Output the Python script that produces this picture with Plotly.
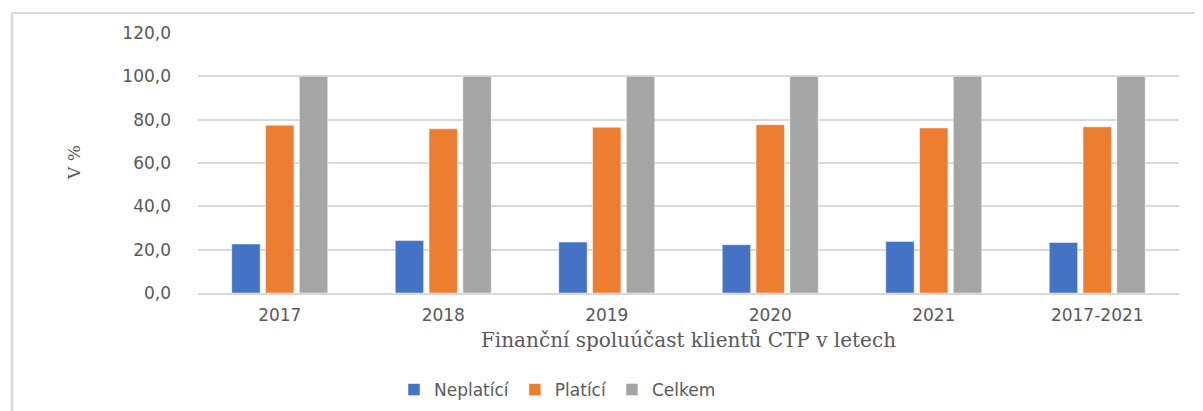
import plotly.graph_objects as go

categories = ["2017", "2018", "2019", "2020", "2021", "2017-2021"]
neplatici = [22.6, 24.2, 23.5, 22.3, 23.8, 23.3]
platici = [77.4, 75.8, 76.5, 77.7, 76.2, 76.7]
celkem = [100.0, 100.0, 100.0, 100.0, 100.0, 100.0]
y_ticks = [0, 20, 40, 60, 80, 100, 120]

# the page body adds an 8px margin; lay the figure out in window pixels
OFF = 8
WIN_W, WIN_H = 1203, 411
W, H = WIN_W - OFF, WIN_H - OFF
PL, PR, PT, PB = 198, 1179, 33, 293   # plot area in window pixels
L, T = PL - OFF, PT - OFF
R, B = WIN_W - PR, WIN_H - PB
pw, ph = PR - PL, PB - PT

def px_x(p):
    return (p - PL) / pw

def px_y(p):
    return (PB - p) / ph

fig = go.Figure()
for name, vals, col in [("Neplatící", neplatici, "#4472C4"),
                        ("Platící", platici, "#ED7D31"),
                        ("Celkem", celkem, "#A5A5A5")]:
    fig.add_trace(go.Bar(x=categories, y=vals, name=name,
                         marker=dict(color=col, line=dict(color="rgba(255,255,255,0.6)", width=0.8))))

tick_font = dict(family="DejaVu Sans", size=17, color="#595959")
serif = "DejaVu Serif"

fig.update_layout(
    width=W, height=H,
    margin=dict(l=L, r=R, t=T, b=B, autoexpand=False),
    paper_bgcolor="white", plot_bgcolor="white",
    barmode="group", bargap=0.38, bargroupgap=0.16,
    separators=", ",
    font=tick_font,
    showlegend=True,
    legend=dict(orientation="h", x=px_x(394), xanchor="left", y=px_y(390), yanchor="middle",
                font=dict(family="DejaVu Sans", size=17, color="#595959"),
                itemwidth=30, traceorder="normal"),
    xaxis=dict(type="category", showgrid=False, showline=True, linecolor="#D9D9D9", linewidth=1.5,
               ticks="", tickfont=tick_font, ticklabelstandoff=6,
               title=dict(text="Finanční spoluúčast klientů CTP v letech",
                          font=dict(family=serif, size=20, color="#595959"), standoff=9)),
    yaxis=dict(range=[0, 120], tickvals=y_ticks, tickformat=".1f", showgrid=True,
               gridcolor="#D9D9D9", gridwidth=1.5, zeroline=False, showline=False,
               ticks="", tickfont=tick_font, ticklabelstandoff=26),
    annotations=[dict(text="V %", xref="paper", yref="paper", x=px_x(74), y=px_y(163),
                      xanchor="center", yanchor="middle", textangle=-90, showarrow=False,
                      font=dict(family=serif, size=17, color="#595959"))],
    shapes=[dict(type="line", xref="paper", yref="paper", x0=px_x(12), x1=px_x(1215),
                 y0=px_y(13), y1=px_y(13), line=dict(color="#D9D9D9", width=2), layer="below"),
            dict(type="line", xref="paper", yref="paper", x0=px_x(12), x1=px_x(12),
                 y0=px_y(13), y1=px_y(425), line=dict(color="#D9D9D9", width=2.5), layer="below")],
)

fig.write_html("out.html")
